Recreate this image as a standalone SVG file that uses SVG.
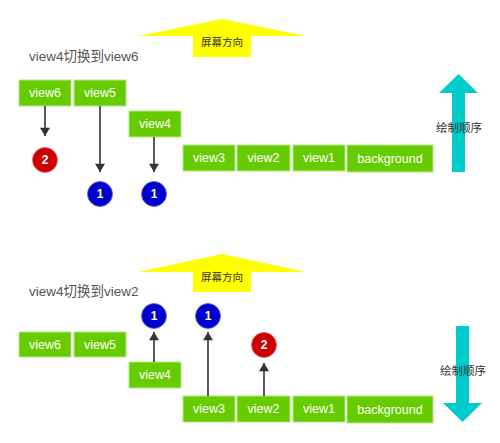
<svg xmlns="http://www.w3.org/2000/svg" width="500" height="443" viewBox="0 0 500 443">
<defs>
<style>
.box rect{fill:#66cc00;stroke:#b5e68a;stroke-width:1}
.box text{fill:#ffffff;font-family:"Liberation Sans",Arial,sans-serif;font-size:12.5px;text-anchor:middle;dominant-baseline:central}
.title{fill:#555555;font-family:"Liberation Sans","Noto Sans CJK SC",sans-serif;font-size:13.5px}
.lbl{fill:#333333;font-family:"Liberation Sans","Noto Sans CJK SC",sans-serif;font-size:11.5px;text-anchor:middle;dominant-baseline:central}
.lbl.s{font-size:10.5px}
.yel{fill:#ffff00}
.cyan{fill:#00cccc}
.red circle{fill:#cc0000;stroke:#e06666;stroke-width:0.8}
.blue circle{fill:#0000cc;stroke:#6666e0;stroke-width:0.8}
.num{fill:#ffffff;font-family:"Liberation Sans",Arial,sans-serif;font-size:12px;font-weight:bold;text-anchor:middle;dominant-baseline:central}
.conn line{stroke:#333333;stroke-width:1.6;marker-end:url(#ah)}
</style>
<marker id="ah" viewBox="0 0 10 12" refX="10" refY="6" markerUnits="userSpaceOnUse" markerWidth="13" markerHeight="10" orient="auto">
<path d="M0,0 L10,6 L0,12 z" fill="#333333"/>
</marker>
</defs>
<rect width="500" height="443" fill="#ffffff"/>

<!-- top section -->
<g id="screen-dir-1">
<path class="yel" d="M138,36 L222,19 L306,36 L251,36 L251,57 L193,57 L193,36 z"/>
<text class="lbl s" x="222" y="42">屏幕方向</text>
</g>
<text class="title" x="29" y="61">view4切换到view6</text>
<g id="draw-order-1">
<path class="cyan" d="M458.5,74 L478,93 L465,93 L465,172 L452,172 L452,93 L439,93 z"/>
<text class="lbl" x="459" y="128">绘制顺序</text>
</g>
<g id="t-view6" class="box"><rect x="19" y="80" width="52" height="26"/><text x="45" y="93">view6</text></g>
<g id="t-view5" class="box"><rect x="74" y="80" width="52" height="26"/><text x="100" y="93">view5</text></g>
<g id="t-view4" class="box"><rect x="129" y="111" width="52" height="26"/><text x="155" y="124">view4</text></g>
<g id="t-view3" class="box"><rect x="183" y="145" width="52" height="26"/><text x="209" y="158">view3</text></g>
<g id="t-view2" class="box"><rect x="237" y="145" width="53" height="26"/><text x="263.5" y="158">view2</text></g>
<g id="t-view1" class="box"><rect x="293" y="145" width="52" height="26"/><text x="319" y="158">view1</text></g>
<g id="t-background" class="box"><rect x="347" y="145" width="86" height="27"/><text x="390" y="158.5">background</text></g>
<g id="t-c2" class="red"><circle cx="45" cy="160" r="12.5"/><text class="num" x="45" y="160">2</text></g>
<g id="t-c1a" class="blue"><circle cx="100" cy="194" r="12.5"/><text class="num" x="100" y="194">1</text></g>
<g id="t-c1b" class="blue"><circle cx="154" cy="194" r="12.5"/><text class="num" x="154" y="194">1</text></g>

<!-- bottom section -->
<g id="screen-dir-2">
<path class="yel" d="M138,272 L222,254 L306,272 L251,272 L251,292 L193,292 L193,272 z"/>
<text class="lbl s" x="222" y="277">屏幕方向</text>
</g>
<text class="title" x="29" y="296">view4切换到view2</text>
<g id="draw-order-2">
<path class="cyan" d="M456,326 L469,326 L469,403 L482,403 L462.5,422 L443,403 L456,403 z"/>
<text class="lbl" x="463" y="371">绘制顺序</text>
</g>
<g id="b-view6" class="box"><rect x="19" y="332" width="52" height="25"/><text x="45" y="344.5">view6</text></g>
<g id="b-view5" class="box"><rect x="74" y="332" width="52" height="25"/><text x="100" y="344.5">view5</text></g>
<g id="b-view4" class="box"><rect x="129" y="362" width="52" height="26"/><text x="155" y="375">view4</text></g>
<g id="b-view3" class="box"><rect x="183" y="396" width="52" height="26"/><text x="209" y="409">view3</text></g>
<g id="b-view2" class="box"><rect x="237" y="396" width="53" height="26"/><text x="263.5" y="409">view2</text></g>
<g id="b-view1" class="box"><rect x="293" y="396" width="52" height="26"/><text x="319" y="409">view1</text></g>
<g id="b-background" class="box"><rect x="347" y="396" width="86" height="27"/><text x="390" y="409.5">background</text></g>
<g id="b-c1a" class="blue"><circle cx="154" cy="316" r="12.5"/><text class="num" x="154" y="316">1</text></g>
<g id="b-c1b" class="blue"><circle cx="208" cy="316" r="12.5"/><text class="num" x="208" y="316">1</text></g>
<g id="b-c2" class="red"><circle cx="264" cy="345" r="12.5"/><text class="num" x="264" y="345">2</text></g>

<g id="connectors" class="conn">
<line x1="45" y1="106" x2="45" y2="136"/>
<line x1="100" y1="106" x2="100" y2="172"/>
<line x1="154" y1="137" x2="154" y2="172"/>
<line x1="154" y1="362" x2="154" y2="332"/>
<line x1="208" y1="396" x2="208" y2="332"/>
<line x1="264" y1="396" x2="264" y2="363"/>
</g>
</svg>
